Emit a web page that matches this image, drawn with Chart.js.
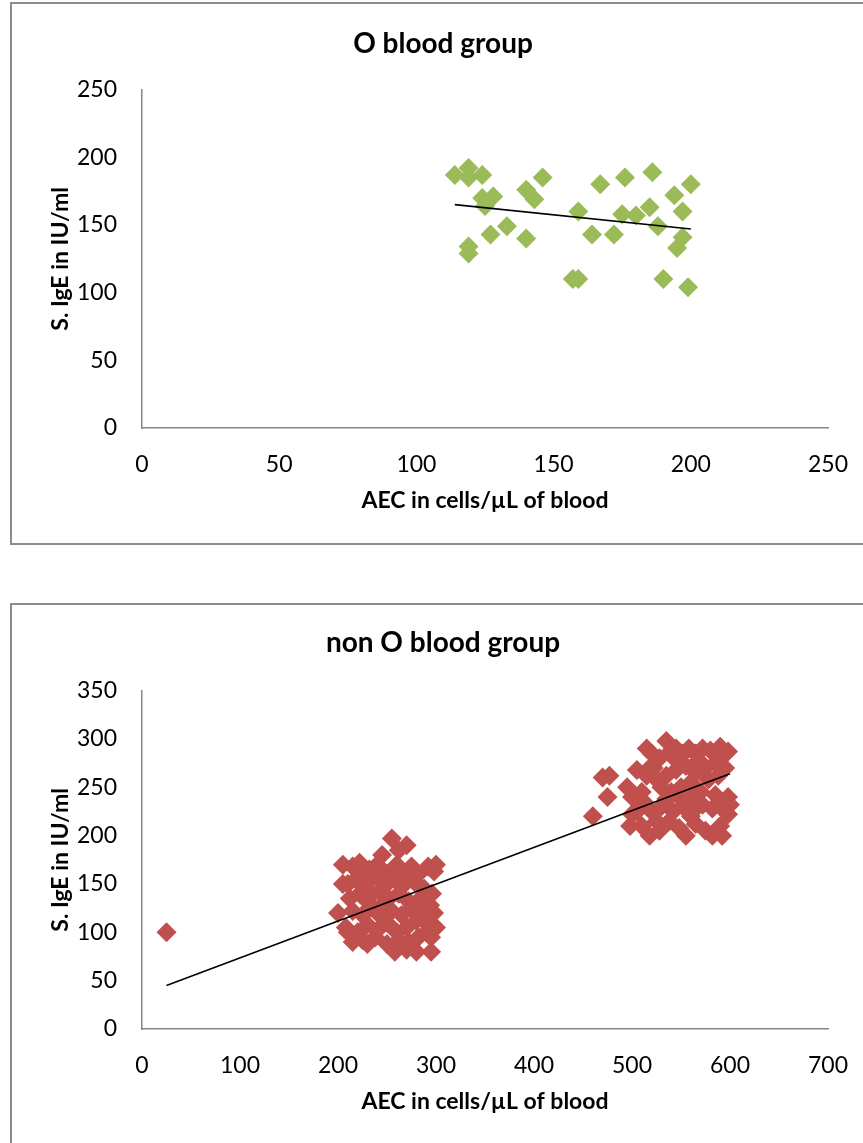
<!DOCTYPE html>
<html>
<head>
<meta charset="utf-8">
<title>AEC vs S. IgE by blood group</title>
<script src="https://cdn.jsdelivr.net/npm/chart.js@4/dist/chart.umd.min.js"></script>
<style>
  html, body { margin: 0; padding: 0; background: #fff; }
  body { position: relative; width: 863px; height: 1143px; overflow: hidden; }
  .frame { position: absolute; box-sizing: border-box; border: 2px solid #8c8c8c; background: #fff; }
  #frame-o { left: 10px; top: 2px; width: 900px; height: 543px; }
  #frame-non-o { left: 10px; top: 603px; width: 900px; height: 600px; }
  canvas { position: absolute; left: 0; }
  #chart-o { top: 0; }
  #chart-non-o { top: 604px; }
</style>
</head>
<body>
<div class="frame" id="frame-o"></div>
<div class="frame" id="frame-non-o"></div>
<canvas id="chart-o" width="863" height="545"></canvas>
<canvas id="chart-non-o" width="863" height="539"></canvas>
<script>
// ── O blood group : AEC (x) / S. IgE (y) ──
var oAec = [114, 119, 119, 124, 146, 167, 176, 186, 200, 124, 128, 125, 140, 143, 159, 175, 180,
            185, 194, 197, 188, 133, 127, 140, 164, 172, 197, 195, 119, 119, 157, 159, 190, 199];
var oIge = [187, 192, 185, 187, 185, 180, 185, 189, 180, 170, 171, 164, 176, 169, 160, 158, 157,
            163, 172, 160, 149, 149, 143, 140, 143, 143, 141, 133, 134, 129, 110, 110, 110, 104];
var oTrendAec = [114, 200];
var oTrendIge = [165, 147];
var oTicksX = [0, 50, 100, 150, 200, 250];
var oTicksY = [0, 50, 100, 150, 200, 250];

// ── non O blood group ──
var nonOAec = [
  25,
  255, 270, 262, 245, 205, 215, 222, 232, 240, 250, 260, 275, 282, 292, 298, 210, 218, 228, 238, 248,
  258, 268, 278, 288, 296, 212, 222, 232, 242, 252, 262, 272, 284, 294, 200, 215, 225, 235, 245, 255,
  265, 275, 285, 298, 208, 220, 230, 240, 250, 260, 270, 280, 290, 300, 215, 225, 238, 250, 262, 272,
  282, 295, 258, 270, 280, 295, 245, 235, 268, 285, 225, 205, 300, 290, 230, 210,
  460, 470, 477, 475, 495, 500, 498, 505, 510, 515, 520, 522, 528, 535, 540, 545, 552, 558, 565, 572,
  580, 590, 598, 595, 585, 575, 565, 555, 545, 535, 525, 515, 530, 540, 550, 560, 570, 578, 588, 512,
  520, 530, 542, 552, 562, 572, 582, 592, 598, 510, 518, 528, 538, 548, 555, 565, 575, 582, 590, 598,
  600, 595, 535, 548, 560, 585, 505, 520, 545, 568, 590, 500, 592, 525, 560
];
var nonOIge = [
  100,
  197, 190, 185, 180, 170, 168, 172, 165, 170, 160, 170, 168, 160, 168, 163, 150, 155, 150, 158, 148,
  155, 150, 152, 145, 140, 135, 140, 130, 142, 135, 140, 132, 135, 128, 120, 122, 118, 125, 115, 122,
  118, 125, 115, 120, 105, 100, 108, 102, 110, 100, 105, 112, 100, 105, 90, 92, 95, 88, 92, 90,
  95, 95, 80, 82, 80, 80, 128, 140, 160, 125, 160, 150, 170, 110, 88, 100,
  220, 260, 262, 240, 250, 240, 210, 225, 245, 290, 285, 270, 280, 298, 288, 290, 285, 290, 285, 290,
  288, 280, 287, 270, 275, 270, 265, 272, 268, 262, 258, 262, 250, 245, 250, 255, 245, 258, 262, 235,
  225, 230, 225, 230, 225, 232, 228, 235, 240, 210, 200, 205, 215, 208, 200, 212, 205, 200, 210, 222,
  232, 225, 238, 240, 240, 242, 268, 272, 278, 278, 292, 222, 200, 215, 220
];
var nonOTrendAec = [25, 600];
var nonOTrendIge = [45, 264];
var nonOTicksX = [0, 100, 200, 300, 400, 500, 600, 700];
var nonOTicksY = [0, 50, 100, 150, 200, 250, 300, 350];

(function () {
  'use strict';

  var FONT = "Lato, 'Noto Sans', sans-serif";
  var AXIS = '#868686';

  function pairs(xs, ys) {
    return xs.map(function (x, i) { return { x: x, y: ys[i] }; });
  }

  function axis(ticks, extra) {
    return Object.assign({
      min: ticks[0],
      max: ticks[ticks.length - 1],
      grid: { display: true, color: 'rgba(0,0,0,0)', drawTicks: false },
      border: { display: true, color: AXIS, width: 1.5 },
      afterBuildTicks: function (s) { s.ticks = ticks.map(function (v) { return { value: v }; }); }
    }, extra);
  }

  function renderScatter(id, titre, xs, ys, tx, ty, couleur, ticksX, ticksY, titlePad, bottomPad) {
    var el = document.getElementById(id);
    new Chart(el, {
      type: 'scatter',
      data: {
        datasets: [
          { type: 'line', data: pairs(tx, ty), borderColor: '#000', borderWidth: 1.6, pointRadius: 0, fill: false, order: 0 },
          { data: pairs(xs, ys), backgroundColor: couleur, borderWidth: 0, pointStyle: 'rectRot', pointRadius: 10, order: 1 }
        ]
      },
      options: {
        responsive: false,
        animation: false,
        events: [],
        layout: { padding: { left: 58, right: 35, top: 0, bottom: bottomPad } },
        plugins: {
          legend: { display: false },
          tooltip: { enabled: false },
          title: { display: true, text: titre, color: '#000', font: { family: FONT, size: 28, weight: 'bold' }, padding: titlePad }
        },
        scales: {
          x: axis(ticksX, {
            type: 'linear',
            ticks: { color: '#000', padding: 23, font: { family: FONT, size: 23 } },
            title: { display: true, text: 'AEC in cells/µL of blood', color: '#000', font: { family: FONT, size: 23, weight: 'bold' }, padding: { top: 0, bottom: 4 } },
            // fixed height, no extra room for the end labels
            afterFit: function (s) { s.height = 90; s.paddingLeft = 0; s.paddingRight = 0; }
          }),
          y: axis(ticksY, {
            type: 'linear',
            ticks: { color: '#000', padding: 25, font: { family: FONT, size: 23 } },
            title: { display: true, text: 'S. IgE in IU/ml', color: '#000', font: { family: FONT, size: 23, weight: 'bold' }, padding: { top: -11, bottom: 0 } },
            afterFit: function (s) { s.width = 84; }
          })
        }
      }
    });
  }

  renderScatter('chart-o', 'O blood group', oAec, oIge, oTrendAec, oTrendIge, '#9bbb59',
    oTicksX, oTicksY, { top: 27, bottom: 29 }, 27);
  renderScatter('chart-non-o', 'non O blood group', nonOAec, nonOIge, nonOTrendAec, nonOTrendIge, '#c0504d',
    nonOTicksX, nonOTicksY, { top: 22, bottom: 31 }, 24);
})();
</script>
</body>
</html>
